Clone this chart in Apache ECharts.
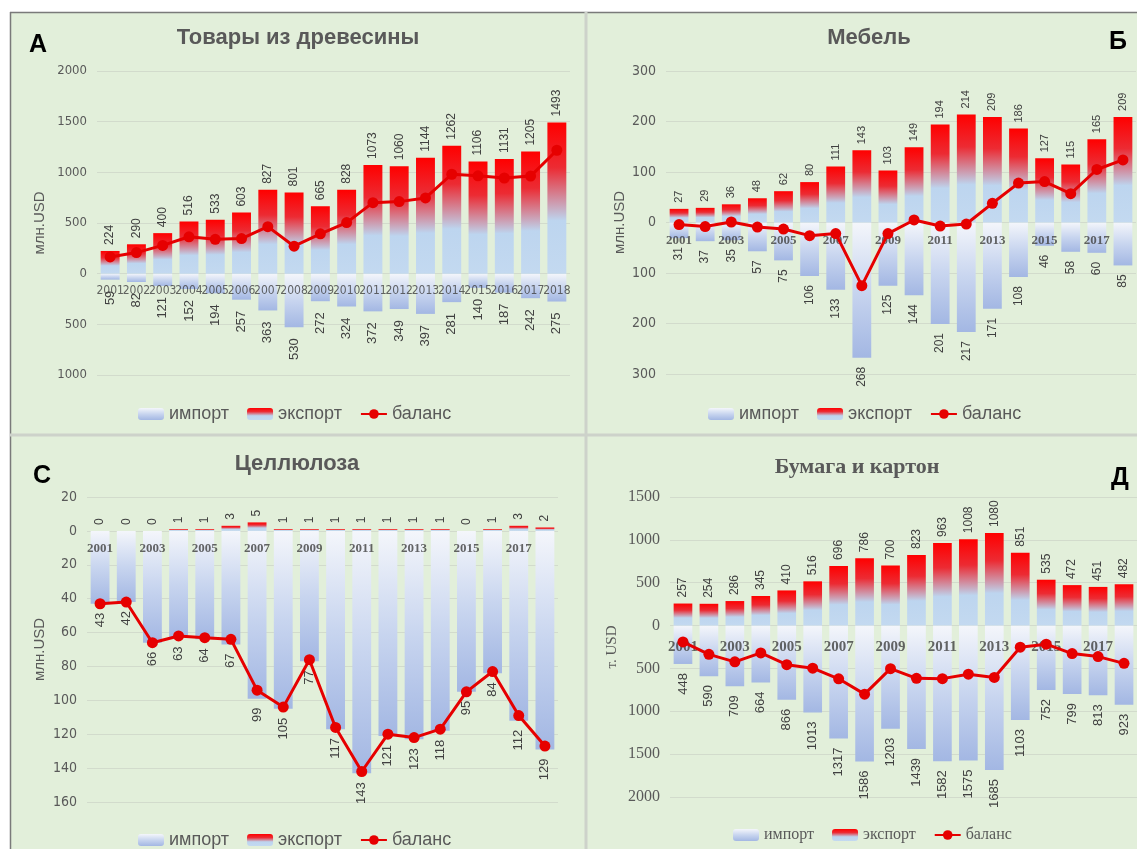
<!DOCTYPE html>
<html>
<head>
<meta charset="utf-8">
<title>Внешняя торговля лесной продукцией</title>
<script src="https://cdn.jsdelivr.net/npm/echarts@6/dist/echarts.min.js"></script>
<style>
  html, body { margin: 0; padding: 0; background: #fff; }
  #chart { width: 1137px; height: 849px; }
</style>
</head>
<body>
<div id="chart"></div>
<script>
const years = ['2001', '2002', '2003', '2004', '2005', '2006', '2007', '2008', '2009',
  '2010', '2011', '2012', '2013', '2014', '2015', '2016', '2017', '2018']

// A - товары из древесины, млн.USD
const woodExport = [224, 290, 400, 516, 533, 603, 827, 801, 665, 828, 1073, 1060, 1144, 1262, 1106, 1131, 1205, 1493]
const woodImport = [59, 82, 121, 152, 194, 257, 363, 530, 272, 324, 372, 349, 397, 281, 140, 187, 242, 275]
const woodBalance = [165, 208, 279, 364, 339, 346, 464, 271, 393, 504, 701, 711, 747, 981, 966, 944, 963, 1218]

// Б - мебель, млн.USD
const furnExport = [27, 29, 36, 48, 62, 80, 111, 143, 103, 149, 194, 214, 209, 186, 127, 115, 165, 209]
const furnImport = [31, 37, 35, 57, 75, 106, 133, 268, 125, 144, 201, 217, 171, 108, 46, 58, 60, 85]
const furnBalance = [-4, -8, 1, -9, -13, -26, -22, -125, -22, 5, -7, -3, 38, 78, 81, 57, 105, 124]

// C - целлюлоза, млн.USD
const pulpExport = [0, 0, 0, 1, 1, 3, 5, 1, 1, 1, 1, 1, 1, 1, 0, 1, 3, 2]
const pulpImport = [43, 42, 66, 63, 64, 67, 99, 105, 77, 117, 143, 121, 123, 118, 95, 84, 112, 129]
const pulpBalance = [-43, -42, -66, -62, -63, -64, -94, -104, -76, -116, -142, -120, -122, -117, -95, -83, -109, -127]

// Д - бумага и картон, т.USD
const paperExport = [257, 254, 286, 345, 410, 516, 696, 786, 700, 823, 963, 1008, 1080, 851, 535, 472, 451, 482]
const paperImport = [448, 590, 709, 664, 866, 1013, 1317, 1586, 1203, 1439, 1582, 1575, 1685, 1103, 752, 799, 813, 923]
const paperBalance = [-191, -336, -423, -319, -456, -497, -621, -800, -503, -616, -619, -567, -605, -252, -217, -327, -362, -441]

const sans = 'Arial, "Liberation Sans", sans-serif'
const narrow = '"Liberation Sans Narrow", "Arial Narrow", "DejaVu Sans Condensed", sans-serif'
const serif = '"Times New Roman", "Liberation Serif", serif'

const exportColor = {
  type: 'linear', x: 0, y: 0, x2: 0, y2: 1,
  colorStops: [
    { offset: 0, color: '#ff0000' },
    { offset: 0.3, color: '#ec2b33' },
    { offset: 0.65, color: '#bdd5ef' },
    { offset: 1, color: '#c3d9f0' }
  ]
}
const importColor = {
  type: 'linear', x: 0, y: 0, x2: 0, y2: 1,
  colorStops: [
    { offset: 0, color: '#f4f6fb' },
    { offset: 0.5, color: '#c8d5ef' },
    { offset: 1, color: '#a3b7e3' }
  ]
}

const panels = [
  {
    grid: { left: 97, top: 71, width: 473, height: 304 },
    min: -1000, max: 2000, interval: 500,
    exp: woodExport, imp: woodImport, bal: woodBalance,
    yName: 'млн.USD', nameGap: 50, nameFont: sans,
    tickFont: narrow, tickSize: 13,
    yearFont: narrow, yearSize: 12, yearWeight: 'normal', yearStep: 1, yearMargin: 11,
    labelSize: 13, impGap: 11
  },
  {
    grid: { left: 666, top: 71, width: 470, height: 303 },
    min: -300, max: 300, interval: 100,
    exp: furnExport, imp: furnImport, bal: furnBalance,
    yName: 'млн.USD', nameGap: 39, nameFont: sans,
    tickFont: narrow, tickSize: 14,
    yearFont: serif, yearSize: 13, yearWeight: 'bold', yearStep: 2, yearMargin: 11,
    labelSize: 12, impGap: 9
  },
  {
    grid: { left: 87, top: 497, width: 471, height: 305 },
    min: -160, max: 20, interval: 20,
    exp: pulpExport, imp: pulpImport, bal: pulpBalance,
    yName: 'млн.USD', nameGap: 40, nameFont: sans,
    tickFont: narrow, tickSize: 14,
    yearFont: serif, yearSize: 13, yearWeight: 'bold', yearStep: 2, yearMargin: 11,
    labelSize: 13, impGap: 9
  },
  {
    grid: { left: 670, top: 497, width: 467, height: 300 },
    min: -2000, max: 1500, interval: 500,
    exp: paperExport, imp: paperImport, bal: paperBalance,
    yName: 'т. USD', nameGap: 50, nameFont: serif,
    tickFont: serif, tickSize: 16,
    yearFont: serif, yearSize: 15, yearWeight: 'bold', yearStep: 2, yearMargin: 14,
    labelSize: 13, impGap: 9
  }
]

const grids = []
const xAxes = []
const yAxes = []
const series = []

panels.forEach((p, i) => {
  grids.push(Object.assign({ containLabel: false }, p.grid))
  xAxes.push({
    type: 'category',
    gridIndex: i,
    data: years,
    axisLine: { show: false },
    axisTick: { show: false },
    axisLabel: { show: false }
  })
  yAxes.push({
    type: 'value',
    gridIndex: i,
    min: p.min,
    max: p.max,
    interval: p.interval,
    name: p.yName,
    nameLocation: 'middle',
    nameGap: p.nameGap,
    nameTextStyle: { color: '#595959', fontFamily: p.nameFont, fontSize: 15 },
    axisLine: { show: false },
    axisTick: { show: false },
    axisLabel: {
      color: '#595959',
      fontFamily: p.tickFont,
      fontSize: p.tickSize,
      margin: 10,
      formatter(v) {
        return Math.abs(v)
      }
    },
    splitLine: { lineStyle: { color: '#d2dbcc', width: 1 } }
  })
  series.push({
    name: 'импорт',
    type: 'bar',
    xAxisIndex: i,
    yAxisIndex: i,
    barWidth: '72%',
    barGap: '-100%',
    itemStyle: { color: importColor },
    label: {
      show: true,
      position: 'bottom',
      rotate: 90,
      align: 'right',
      verticalAlign: 'middle',
      distance: p.impGap,
      color: '#404040',
      fontFamily: sans,
      fontSize: p.labelSize,
      formatter(d) {
        return Math.abs(d.value)
      }
    },
    data: p.imp.map(v => -v)
  })
  series.push({
    name: 'экспорт',
    type: 'bar',
    xAxisIndex: i,
    yAxisIndex: i,
    barWidth: '72%',
    barGap: '-100%',
    itemStyle: { color: exportColor },
    label: {
      show: true,
      position: 'top',
      rotate: 90,
      align: 'left',
      verticalAlign: 'middle',
      distance: 6,
      color: '#404040',
      fontFamily: sans,
      fontSize: p.labelSize - 1
    },
    data: p.exp
  })
  series.push({
    name: 'баланс',
    type: 'line',
    xAxisIndex: i,
    yAxisIndex: i,
    symbol: 'circle',
    symbolSize: 11,
    lineStyle: { color: '#e60000', width: 3 },
    itemStyle: { color: '#e60000' },
    z: 5,
    data: p.bal
  })
  // подписи годов у нулевой линии (поверх столбцов)
  series.push({
    name: 'годы',
    type: 'scatter',
    xAxisIndex: i,
    yAxisIndex: i,
    silent: true,
    symbolSize: 1,
    itemStyle: { color: 'rgba(0,0,0,0)' },
    z: 4,
    label: {
      show: true,
      position: 'bottom',
      distance: p.yearMargin,
      color: '#404040',
      fontFamily: p.yearFont,
      fontSize: p.yearSize,
      fontWeight: p.yearWeight,
      formatter(d) {
        return years[d.dataIndex]
      }
    },
    data: years.map((y, k) => (k % p.yearStep === 0 ? 0 : '-'))
  })
})

// легенды под каждым графиком
const legendPos = [
  { left: 133, top: 400, font: sans, size: 18 },
  { left: 703, top: 400, font: sans, size: 18 },
  { left: 133, top: 826, font: sans, size: 18 },
  { left: 728, top: 822, font: serif, size: 16 }
]
const legends = legendPos.map(l => ({
  left: l.left,
  top: l.top,
  itemWidth: 26,
  itemHeight: 12,
  itemGap: 18,
  textStyle: { color: '#595959', fontFamily: l.font, fontSize: l.size },
  data: ['импорт', 'экспорт', 'баланс']
}))

function titleText(x, y, text, font) {
  return {
    type: 'text', x: x, y: y,
    style: {
      text: text, fill: '#595959', font: 'bold 22px ' + font,
      textAlign: 'center', textVerticalAlign: 'middle'
    }
  }
}
function letter(x, y, text) {
  return {
    type: 'text', x: x, y: y,
    style: {
      text: text, fill: '#000', font: 'bold 25px ' + sans,
      textAlign: 'center', textVerticalAlign: 'middle'
    }
  }
}
function line(x1, y1, x2, y2, color, width) {
  return {
    type: 'line',
    shape: { x1: x1, y1: y1, x2: x2, y2: y2 },
    style: { stroke: color, lineWidth: width }
  }
}

const chart = echarts.init(document.getElementById('chart'))
chart.setOption({
  backgroundColor: '#e2efda',
  animation: false,
  graphic: [
    { type: 'rect', shape: { x: 0, y: 0, width: 1137, height: 12 }, style: { fill: '#fff' } },
    { type: 'rect', shape: { x: 0, y: 0, width: 10, height: 849 }, style: { fill: '#fff' } },
    line(10, 12.5, 1137, 12.5, '#7a7a7a', 1.5),
    line(10.5, 12, 10.5, 849, '#7a7a7a', 1.5),
    line(586, 12, 586, 849, '#cdd2ca', 3),
    line(10, 435, 1137, 435, '#cdd2ca', 3),
    titleText(298, 38, 'Товары из древесины', sans),
    titleText(869, 38, 'Мебель', sans),
    titleText(297, 464, 'Целлюлоза', sans),
    titleText(857, 467, 'Бумага и картон', serif),
    letter(38, 45, 'A'),
    letter(1118, 42, 'Б'),
    letter(42, 476, 'C'),
    letter(1120, 478, 'Д')
  ],
  legend: legends,
  grid: grids,
  xAxis: xAxes,
  yAxis: yAxes,
  series: series
})
</script>
</body>
</html>
